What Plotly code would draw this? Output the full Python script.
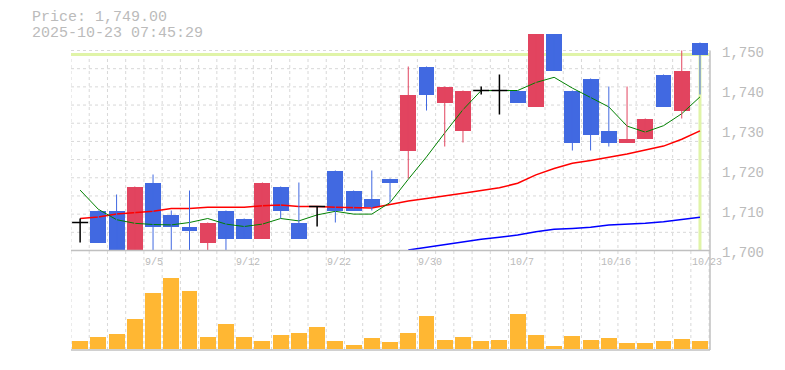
import plotly.graph_objects as go

# ---------------- data ----------------
dates = ["9/1", "9/2", "9/3", "9/4", "9/5", "9/8", "9/9", "9/10", "9/11", "9/12",
         "9/16", "9/17", "9/18", "9/19", "9/22", "9/24", "9/25", "9/26", "9/29", "9/30",
         "10/1", "10/2", "10/3", "10/6", "10/7", "10/8", "10/9", "10/10", "10/15", "10/16",
         "10/17", "10/20", "10/21", "10/22", "10/23"]
opens = [1707, 1710, 1710, 1699, 1717, 1709, 1706, 1702, 1710, 1708,
         1703, 1716, 1707, 1711, 1720, 1715, 1713, 1718, 1725, 1746,
         1737, 1730, 1740, 1740, 1740, 1736, 1755, 1740, 1743, 1730,
         1727, 1728, 1744, 1735, 1752]
highs = [1708, 1710, 1714, 1716, 1719, 1710, 1715, 1707, 1710, 1708,
         1717, 1716, 1717, 1711, 1720, 1715, 1720, 1718, 1746, 1746,
         1741, 1740, 1741, 1744, 1740, 1755, 1755, 1740, 1743, 1741,
         1741, 1733, 1744, 1750, 1752]
lows = [1702, 1702, 1698, 1698, 1698, 1698, 1698, 1699, 1699, 1703,
        1703, 1708, 1703, 1706, 1707, 1710, 1710, 1712, 1718, 1735,
        1726, 1727, 1739, 1734, 1737, 1736, 1745, 1725, 1725, 1726,
        1727, 1728, 1736, 1733, 1739]
closes = [1707, 1702, 1699, 1716, 1706, 1706, 1705, 1707, 1703, 1703,
          1717, 1710, 1703, 1711, 1710, 1710, 1711, 1717, 1739, 1739,
          1741, 1740, 1740, 1740, 1737, 1755, 1745, 1727, 1729, 1727,
          1728, 1733, 1736, 1745, 1749]
volumes = [2400, 3600, 4500, 9000, 16800, 21300, 17400, 3600, 7500, 3600,
           2400, 4200, 4800, 6600, 2400, 1200, 3300, 2100, 4800, 9900,
           2700, 3600, 2400, 2700, 10500, 4200, 900, 3900, 2700, 3300,
           1800, 1800, 2400, 3000, 2400]
ma5 = [1715.1, 1710.3, 1707.7, 1706.8, 1706.5, 1706.4, 1707.0, 1708.0, 1706.6, 1706.0,
       1706.6, 1708.0, 1707.4, 1708.9, 1709.8, 1709.1, 1709.1, 1712.0, 1717.8, 1723.4,
       1729.4, 1735.2, 1740.0, 1740.0, 1740.0, 1742.0, 1743.3, 1740.6, 1738.3, 1735.9,
       1731.1, 1729.6, 1731.2, 1734.2, 1738.4]
ma25 = [1708.0, 1708.4, 1709.1, 1709.5, 1709.8, 1710.5, 1710.5, 1710.8, 1710.8, 1710.8,
        1711.2, 1711.4, 1711.0, 1711.0, 1710.8, 1710.7, 1710.6, 1711.5, 1712.4, 1713.0,
        1713.6, 1714.3, 1715.0, 1715.7, 1716.8, 1718.9, 1720.5, 1721.8, 1722.5, 1723.3,
        1724.1, 1725.1, 1726.1, 1727.8, 1729.9]
ma75 = [None] * 18 + [1700.1, 1700.8, 1701.5, 1702.1, 1702.8, 1703.3, 1703.9, 1704.7,
                      1705.3, 1705.5, 1705.8, 1706.4, 1706.6, 1706.8, 1707.2, 1707.8, 1708.3]
tick_dates = ["9/5", "9/12", "9/22", "9/30", "10/7", "10/16", "10/23"]
price_ticks = [1700, 1710, 1720, 1730, 1740, 1750]
price_tick_text = ["1,700", "1,710", "1,720", "1,730", "1,740", "1,750"]
last_price = 1749.00
timestamp = "2025-10-23 07:45:29"

# ---------------- style ----------------
UP = "#E2445F"
DOWN = "#4169E1"
VOL = "#FFB733"
GRID = "#d8d8d8"
FRAME = "#c0c0c0"
TXT = "#bbbbbb"
MONO = "Liberation Mono, DejaVu Sans Mono, monospace"

OFF = 8                      # page body margin of the html page
PAGE_W, PAGE_H = 785, 370
W, H = PAGE_W - OFF, PAGE_H - OFF
# page-pixel geometry of the plot
px_left, px_right, px_top, px_bottom = 71, 710, 34, 350
y_bottom_px = 250.5          # page y of price 1700
L, R, T, B = px_left - OFF, PAGE_W - px_right, px_top - OFF, PAGE_H - px_bottom
plot_w = W - L - R
plot_h = H - T - B
px_per_yen = 4.0
y_lo = 1700
y_hi = y_lo + (y_bottom_px - px_top) / px_per_yen
price_dom0 = (px_bottom - y_bottom_px) / plot_h
vol_px_scale = 300.0
vol_lo = -2 * vol_px_scale
vol_hi = vol_lo + (px_bottom - y_bottom_px) * vol_px_scale

n = len(dates)
xs = list(range(n))
x_range = [-0.5, n - 0.45]


def py_to_paper(page_y):
    return (px_bottom - page_y) / plot_h


def px_to_paper(page_x):
    return (page_x - px_left) / plot_w


def price_to_paper(p):
    return py_to_paper(y_bottom_px - (p - y_lo) * px_per_yen)


fig = go.Figure()

# moving averages (beneath candles)
fig.add_trace(go.Scatter(x=xs, y=ma75, mode="lines", line=dict(color="#0000ff", width=1.5),
                         hoverinfo="skip", showlegend=False))
fig.add_trace(go.Scatter(x=xs, y=ma25, mode="lines", line=dict(color="#ff0000", width=1.5),
                         hoverinfo="skip", showlegend=False))
fig.add_trace(go.Scatter(x=xs, y=ma5, mode="lines", line=dict(color="#008000", width=1),
                         hoverinfo="skip", showlegend=False))

# wicks
up_wx, up_wy, dn_wx, dn_wy, dj_x, dj_y = [], [], [], [], [], []
for i in xs:
    o, h, l, c = opens[i], highs[i], lows[i], closes[i]
    if c > o:
        up_wx += [i, i, None]
        up_wy += [l, h, None]
    elif c < o:
        dn_wx += [i, i, None]
        dn_wy += [l, h, None]
    else:
        dj_x += [i, i, None, i - 0.44, i + 0.44, None]
        dj_y += [l, h, None, c, c, None]
fig.add_trace(go.Scatter(x=up_wx, y=up_wy, mode="lines", line=dict(color=UP, width=1),
                         hoverinfo="skip", showlegend=False))
fig.add_trace(go.Scatter(x=dn_wx, y=dn_wy, mode="lines", line=dict(color=DOWN, width=1),
                         hoverinfo="skip", showlegend=False))
fig.add_trace(go.Scatter(x=dj_x, y=dj_y, mode="lines", line=dict(color="#000000", width=1.5),
                         hoverinfo="skip", showlegend=False))

# bodies
up_i = [i for i in xs if closes[i] > opens[i]]
dn_i = [i for i in xs if closes[i] < opens[i]]
fig.add_trace(go.Bar(x=up_i, y=[closes[i] - opens[i] for i in up_i], base=[opens[i] for i in up_i],
                     width=0.875, marker=dict(color=UP, line=dict(width=0)),
                     hoverinfo="skip", showlegend=False))
fig.add_trace(go.Bar(x=dn_i, y=[opens[i] - closes[i] for i in dn_i], base=[closes[i] for i in dn_i],
                     width=0.875, marker=dict(color=DOWN, line=dict(width=0)),
                     hoverinfo="skip", showlegend=False))

# volume
fig.add_trace(go.Bar(x=xs, y=volumes, width=0.875, marker=dict(color=VOL, line=dict(width=0)),
                     xaxis="x2", yaxis="y2", hoverinfo="skip", showlegend=False))

shapes = []
top_paper = price_to_paper(1750)
for k in range(n + 1):
    shapes.append(dict(type="line", xref="x", yref="paper", x0=k - 0.5, x1=k - 0.5,
                       y0=0, y1=top_paper, layer="below",
                       line=dict(color=GRID, width=1, dash="3px,3px")))
for k in range(1, 12):
    yv = y_lo + k * 50 / 11
    shapes.append(dict(type="line", xref="x", yref="y", x0=-0.5, x1=n - 0.5, y0=yv, y1=yv,
                       layer="below", line=dict(color=GRID, width=1, dash="3px,3px")))
shapes.append(dict(type="line", xref="paper", yref="y", x0=0, x1=1, y0=last_price, y1=last_price,
                   layer="below", line=dict(color="#E0F4A8", width=3)))
shapes.append(dict(type="line", xref="x", yref="y", x0=n - 1, x1=n - 1, y0=y_lo, y1=1750,
                   layer="below", line=dict(color="#E0F4A8", width=3)))
shapes.append(dict(type="line", xref="paper", yref="paper", x0=0, x1=1, y0=price_dom0, y1=price_dom0,
                   line=dict(color=FRAME, width=1.5)))
shapes.append(dict(type="line", xref="paper", yref="paper", x0=0, x1=1, y0=0, y1=0,
                   line=dict(color=FRAME, width=1.5)))
shapes.append(dict(type="line", xref="paper", yref="paper", x0=1, x1=1, y0=0, y1=top_paper,
                   line=dict(color=FRAME, width=1.5)))

annotations = [
    dict(text=f"Price: {last_price:,.2f}", xref="paper", yref="paper",
         x=px_to_paper(29.5), y=py_to_paper(17.7), xanchor="left", yanchor="middle",
         showarrow=False, font=dict(family=MONO, size=15, color=TXT)),
    dict(text=timestamp, xref="paper", yref="paper",
         x=px_to_paper(29.5), y=py_to_paper(33.3), xanchor="left", yanchor="middle",
         showarrow=False, font=dict(family=MONO, size=15, color=TXT)),
]
for d in tick_dates:
    i = dates.index(d)
    annotations.append(dict(text=d, xref="x", yref="paper", x=i - 0.55, y=py_to_paper(262),
                            xanchor="left", yanchor="middle", showarrow=False,
                            font=dict(family=MONO, size=10, color=TXT)))
for v, t in zip(price_ticks, price_tick_text):
    annotations.append(dict(text=t, xref="paper", yref="y", x=px_to_paper(720), y=v,
                            yshift=-2.5, xanchor="left", yanchor="middle", showarrow=False,
                            font=dict(family=MONO, size=14, color=TXT)))

fig.update_layout(
    width=W, height=H,
    margin=dict(l=L, r=R, t=T, b=B, pad=0),
    paper_bgcolor="white", plot_bgcolor="white",
    barmode="overlay", bargap=0,
    showlegend=False,
    xaxis=dict(range=x_range, showgrid=False, zeroline=False, showticklabels=False,
               showline=False, ticks="", anchor="y", fixedrange=True),
    yaxis=dict(domain=[price_dom0, 1], range=[y_lo, y_hi], showgrid=False,
               zeroline=False, showline=False, ticks="", showticklabels=False, fixedrange=True),
    xaxis2=dict(range=x_range, showgrid=False, zeroline=False, showticklabels=False,
                showline=False, ticks="", anchor="y2", matches="x", fixedrange=True),
    yaxis2=dict(domain=[0, price_dom0], range=[vol_lo, vol_hi], showgrid=False, zeroline=False,
                showticklabels=False, showline=False, ticks="", fixedrange=True),
    shapes=shapes,
    annotations=annotations,
)

fig.write_html("out.html")
